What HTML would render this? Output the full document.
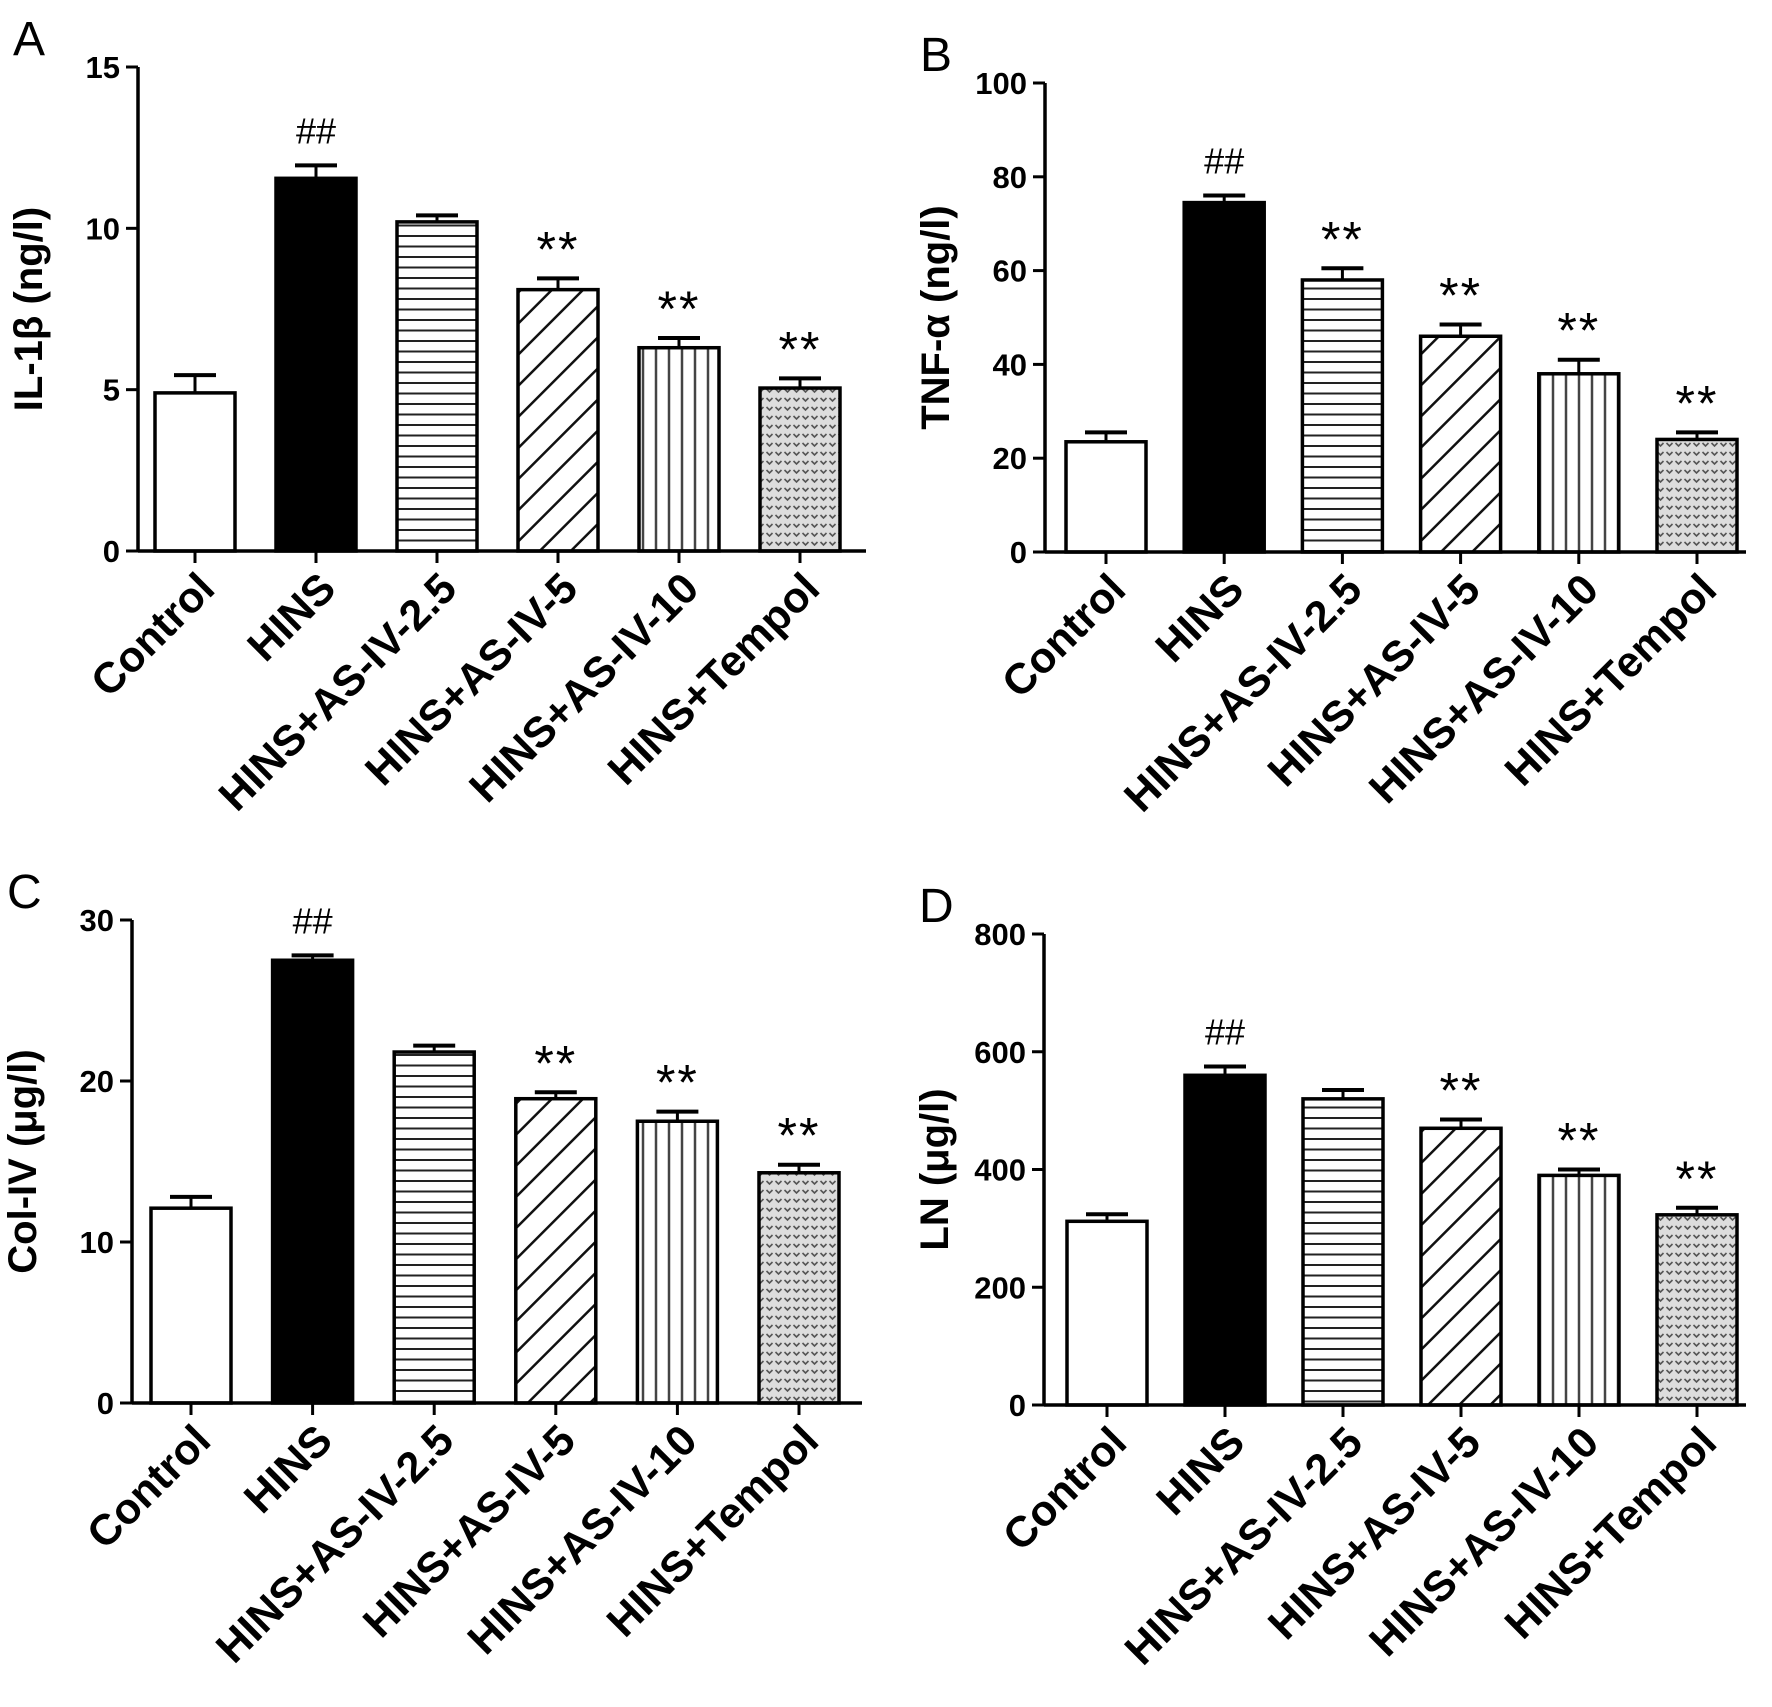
<!DOCTYPE html>
<html><head><meta charset="utf-8"><style>
html,body{margin:0;padding:0;background:#fff}
svg{display:block;font-family:"Liberation Sans",Arial,sans-serif}
</style></head><body>
<svg id="fig" width="1772" height="1707" viewBox="0 0 1772 1707" xmlns="http://www.w3.org/2000/svg">
<defs>
<pattern id="p-h" width="10" height="10.5" patternUnits="userSpaceOnUse"><rect width="10" height="10.5" fill="#fff"/><line x1="0" y1="5" x2="10" y2="5" stroke="#222" stroke-width="2"/></pattern>
<pattern id="p-d" width="22" height="22" patternUnits="userSpaceOnUse" patternTransform="rotate(45)"><rect width="22" height="22" fill="#fff"/><line x1="0" y1="0" x2="0" y2="22" stroke="#111" stroke-width="5"/></pattern>
<pattern id="p-v" width="13" height="10" patternUnits="userSpaceOnUse"><rect width="13" height="10" fill="#fff"/><line x1="6" y1="0" x2="6" y2="10" stroke="#444" stroke-width="2.5"/></pattern>
<pattern id="p-s" width="9" height="9" patternUnits="userSpaceOnUse"><rect width="9" height="9" fill="#ddd"/><path d="M1.5 2 L4.5 5 L7.5 2" fill="none" stroke="#555" stroke-width="1.6"/></pattern>
</defs>
</svg>
<script>
const categories = ["Control","HINS","HINS+AS-IV-2.5","HINS+AS-IV-5","HINS+AS-IV-10","HINS+Tempol"];
const valuesA = [4.9, 11.55, 10.2, 8.1, 6.3, 5.05];
const errorsA = [0.55, 0.4, 0.2, 0.35, 0.3, 0.3];
const marksA = ["", "##", "", "**", "**", "**"];
const ticksA = [0, 5, 10, 15];
const valuesB = [23.5, 74.5, 58, 46, 38, 24];
const errorsB = [2, 1.5, 2.5, 2.5, 3, 1.5];
const marksB = ["", "##", "**", "**", "**", "**"];
const ticksB = [0, 20, 40, 60, 80, 100];
const valuesC = [12.1, 27.5, 21.8, 18.9, 17.5, 14.3];
const errorsC = [0.7, 0.3, 0.4, 0.4, 0.6, 0.5];
const marksC = ["", "##", "", "**", "**", "**"];
const ticksC = [0, 10, 20, 30];
const valuesD = [312, 560, 520, 470, 390, 323];
const errorsD = [12, 15, 15, 15, 10, 12];
const marksD = ["", "##", "", "**", "**", "**"];
const ticksD = [0, 200, 400, 600, 800];

const fills = ["#fff","#000","url(#p-h)","url(#p-d)","url(#p-v)","url(#p-s)"];
const NS = "http://www.w3.org/2000/svg";
const svg = document.getElementById('fig');
function mk(tag, attrs, parent, text){
  const e = document.createElementNS(NS, tag);
  for (const k in attrs) e.setAttribute(k, attrs[k]);
  if (text !== undefined) e.textContent = text;
  (parent||svg).appendChild(e);
  return e;
}
function panel(id, letter, title, vals, errs, marks, ticks, L){
  const g = mk('g', {});
  
  
  const ymax = ticks[ticks.length-1];
  const y = v => L.zero - (v / ymax) * (L.zero - L.top);
  const x = i => L.c0 + i * L.step;
  const bw = 80;
  const lt = mk('text', {x: L.ax - 125, y: L.top - 12, 'font-size': 48}, g, letter);
  
  
  vals.forEach((v, i) => {
    const cx = x(i);
    const top = y(v), et = y(v + errs[i]);
    const eb = mk('line', {x1: cx, y1: top, x2: cx, y2: et, stroke: '#000', 'stroke-width': 3}, g);
    
    
    const cap = mk('line', {x1: cx - 21, y1: et, x2: cx + 21, y2: et, stroke: '#000', 'stroke-width': 4}, g);
    
    
    const r = mk('rect', {x: cx - bw/2, y: top, width: bw, height: L.zero - top, fill: fills[i], stroke: '#000', 'stroke-width': 3.5}, g);
    
    
    if (marks[i]) {
      const isHash = marks[i] === '##';
      const m = mk('text', {x: cx, y: isHash ? et - 22 : et - 12, 'text-anchor': 'middle', 'font-size': isHash ? 36 : 50, 'letter-spacing': isHash ? 0 : 2}, g, marks[i]);
      
      
    }
    const tk = mk('line', {x1: cx, y1: L.zero, x2: cx, y2: L.zero + 12, stroke: '#000', 'stroke-width': 3}, g);
    
    
    const tx = cx + 22, ty = L.zero + 40;
    const lb = mk('text', {x: tx, y: ty, 'text-anchor': 'end', 'font-size': 43, 'font-weight': 'bold', transform: `rotate(-45 ${tx} ${ty})`}, g, categories[i]);
    
    
  });
  const ya = mk('line', {x1: L.ax, y1: L.top, x2: L.ax, y2: L.zero + 1.5, stroke: '#000', 'stroke-width': 3.5}, g);
  
  
  const xa = mk('line', {x1: L.ax, y1: L.zero, x2: L.xend, y2: L.zero, stroke: '#000', 'stroke-width': 3.5}, g);
  
  
  ticks.forEach(t => {
    const ty = y(t);
    const tl = mk('line', {x1: L.ax - 12, y1: ty, x2: L.ax, y2: ty, stroke: '#000', 'stroke-width': 3}, g);
    
    
    const tt = mk('text', {x: L.ax - 18, y: ty + 11, 'text-anchor': 'end', 'font-size': 31, 'font-weight': 'bold'}, g, String(t));
    
    
  });
  const my = (L.top + L.zero) / 2;
  const tx = L.ax - 96;
  const yt = mk('text', {x: tx, y: my, 'text-anchor': 'middle', 'font-size': 40, 'font-weight': 'bold', transform: `rotate(-90 ${tx} ${my})`}, g, title);
  
  
}
panel('a', 'A', 'IL-1β (ng/l)', valuesA, errorsA, marksA, ticksA, {ax: 138, top: 67, zero: 551, c0: 195, step: 121, xend: 866});
panel('b', 'B', 'TNF-α (ng/l)', valuesB, errorsB, marksB, ticksB, {ax: 1045, top: 83, zero: 552, c0: 1106, step: 118.2, xend: 1746});
panel('c', 'C', 'Col-IV (μg/l)', valuesC, errorsC, marksC, ticksC, {ax: 132, top: 920, zero: 1403, c0: 191, step: 121.6, xend: 862});
panel('d', 'D', 'LN (μg/l)', valuesD, errorsD, marksD, ticksD, {ax: 1044, top: 934, zero: 1405, c0: 1107, step: 118, xend: 1746});
</script>
</body></html>
